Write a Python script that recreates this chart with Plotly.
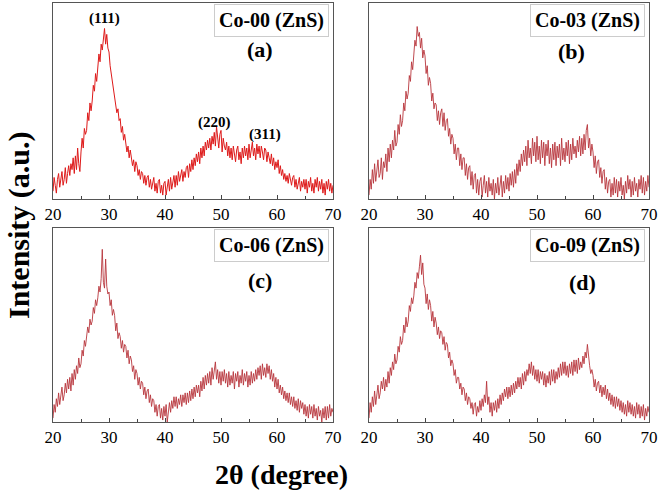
import plotly.graph_objects as go

# 2-theta grid (degrees), step 0.2 from 20 to 70
two_theta = [round(20 + 0.2 * i, 1) for i in range(251)]

# Intensity (a.u., 0-100 of panel height)
co00 = [4, 11, 7, 3, 10, 13, 6, 9, 14, 7, 10, 16, 8, 13, 17, 12, 18, 15, 21, 13,
        22, 15, 26, 18, 14, 24, 31, 26, 36, 33, 35, 44, 40, 49, 45, 50, 58, 55, 64, 60,
        66, 74, 70, 79, 76, 82, 87, 79, 84, 77, 75, 68, 64, 60, 57, 53, 49, 44, 46, 40,
        41, 34, 37, 30, 33, 29, 24, 27, 21, 25, 22, 17, 20, 14, 19, 17, 12, 15, 10, 14,
        13, 8, 12, 7, 11, 12, 6, 10, 5, 9, 11, 4, 8, 3, 9, 10, 3, 7, 2, 8,
        9, 2, 6, 10, 4, 11, 5, 8, 12, 6, 12, 7, 14, 9, 13, 15, 9, 14, 11, 16,
        17, 11, 18, 14, 20, 15, 21, 17, 23, 19, 24, 18, 26, 21, 27, 22, 29, 25, 30, 26,
        31, 25, 32, 28, 34, 27, 37, 30, 26, 33, 35, 24, 31, 27, 25, 29, 22, 27, 21, 26,
        20, 27, 23, 19, 25, 27, 20, 24, 18, 26, 21, 27, 22, 26, 20, 28, 21, 25, 29, 22,
        26, 20, 28, 23, 27, 21, 27, 24, 20, 26, 25, 19, 24, 21, 18, 23, 17, 21, 15, 19,
        16, 20, 13, 17, 12, 15, 10, 13, 9, 12, 8, 13, 10, 7, 11, 12, 6, 10, 5, 9,
        11, 4, 9, 6, 10, 5, 10, 3, 9, 6, 11, 4, 8, 3, 10, 6, 11, 4, 9, 5,
        10, 3, 8, 2, 9, 5, 10, 4, 8, 3, 7]

co03 = [2, 10, 5, 15, 8, 18, 9, 14, 20, 11, 13, 21, 10, 19, 16, 23, 14, 26, 19, 28,
        21, 30, 25, 35, 27, 29, 38, 33, 43, 37, 40, 49, 45, 55, 51, 54, 63, 60, 70, 66,
        74, 81, 78, 88, 83, 85, 77, 82, 72, 76, 73, 64, 68, 58, 62, 59, 50, 54, 46, 49,
        48, 40, 45, 38, 44, 46, 37, 44, 35, 40, 41, 32, 36, 28, 33, 31, 23, 28, 20, 26,
        26, 17, 23, 15, 21, 21, 12, 18, 10, 16, 17, 7, 14, 5, 12, 13, 3, 10, 2, 9,
        11, 1, 7, 12, 3, 9, 1, 11, 4, 8, 2, 10, 0, 8, 3, 11, 2, 7, 12, 1,
        9, 3, 12, 5, 11, 4, 13, 7, 14, 6, 15, 8, 18, 12, 20, 14, 23, 17, 25, 19,
        27, 17, 30, 21, 26, 18, 31, 22, 29, 19, 32, 20, 27, 18, 30, 21, 29, 17, 28, 22,
        30, 18, 26, 16, 28, 20, 29, 17, 27, 21, 28, 17, 31, 20, 26, 19, 29, 22, 30, 18,
        28, 20, 31, 23, 27, 21, 30, 24, 32, 22, 31, 23, 33, 25, 35, 38, 26, 31, 22, 28,
        24, 16, 22, 13, 19, 20, 11, 16, 8, 14, 15, 5, 11, 3, 9, 10, 1, 8, 2, 11,
        3, 10, 1, 9, 4, 11, 2, 7, 0, 9, 3, 12, 5, 10, 1, 9, 2, 11, 4, 8,
        1, 10, 5, 12, 3, 11, 2, 9, 4, 12, 6]

co06 = [2, 9, 5, 12, 8, 15, 9, 13, 18, 11, 14, 20, 15, 22, 17, 23, 16, 25, 19, 27,
        22, 29, 25, 33, 28, 30, 37, 34, 42, 39, 43, 49, 46, 53, 50, 52, 59, 56, 63, 60,
        64, 70, 67, 74, 89, 72, 69, 84, 70, 66, 67, 60, 63, 55, 58, 55, 47, 51, 43, 46,
        44, 38, 42, 36, 40, 39, 33, 37, 30, 34, 32, 26, 29, 22, 27, 25, 19, 23, 17, 21,
        20, 14, 18, 12, 16, 17, 10, 14, 8, 12, 11, 5, 9, 3, 8, 9, 2, 7, 1, 8,
        3, 9, 0, 7, 10, 5, 11, 7, 13, 8, 13, 7, 12, 9, 14, 8, 14, 10, 15, 9,
        15, 10, 16, 11, 17, 12, 18, 13, 19, 15, 19, 13, 21, 16, 23, 17, 24, 19, 25, 20,
        26, 19, 28, 22, 27, 31, 22, 27, 20, 26, 19, 26, 21, 27, 20, 25, 18, 26, 19, 24,
        20, 26, 17, 25, 21, 26, 18, 24, 20, 27, 19, 25, 21, 26, 18, 24, 19, 26, 20, 25,
        21, 27, 22, 28, 24, 29, 22, 30, 24, 28, 23, 30, 25, 29, 22, 27, 21, 25, 18, 23,
        17, 22, 15, 19, 14, 18, 12, 16, 11, 15, 10, 15, 9, 13, 8, 13, 7, 11, 6, 12,
        5, 11, 7, 10, 4, 9, 3, 8, 2, 9, 4, 8, 2, 9, 3, 7, 1, 8, 3, 6,
        0, 7, 2, 8, 1, 8, 2, 9, 3, 7, 5]

co09 = [2, 10, 5, 13, 8, 16, 9, 14, 19, 12, 15, 21, 17, 23, 16, 22, 18, 26, 20, 28,
        24, 31, 27, 35, 30, 32, 39, 36, 44, 40, 42, 50, 46, 54, 49, 52, 60, 57, 64, 61,
        65, 72, 69, 77, 74, 80, 86, 76, 82, 71, 69, 61, 66, 58, 63, 60, 52, 57, 49, 54,
        51, 45, 49, 43, 47, 46, 40, 44, 37, 41, 40, 33, 36, 29, 32, 30, 24, 27, 20, 23,
        23, 17, 20, 14, 18, 17, 11, 15, 9, 13, 12, 7, 10, 4, 9, 10, 3, 8, 5, 11,
        6, 12, 8, 14, 10, 21, 9, 13, 5, 10, 3, 10, 6, 11, 5, 12, 7, 14, 9, 15,
        11, 17, 13, 18, 12, 18, 13, 19, 14, 20, 15, 21, 17, 23, 18, 23, 17, 25, 19, 26,
        21, 27, 24, 30, 25, 31, 24, 29, 22, 27, 21, 27, 20, 26, 22, 26, 19, 25, 18, 24,
        20, 26, 19, 27, 21, 27, 20, 26, 22, 28, 23, 30, 24, 31, 25, 31, 24, 29, 23, 30,
        25, 31, 24, 32, 26, 32, 25, 33, 27, 31, 28, 34, 30, 36, 33, 40, 32, 29, 25, 27,
        24, 18, 22, 16, 20, 21, 15, 19, 13, 18, 14, 19, 12, 17, 11, 15, 9, 14, 8, 13,
        7, 13, 8, 12, 6, 11, 5, 10, 4, 9, 3, 11, 5, 10, 4, 9, 3, 8, 2, 10,
        4, 9, 2, 8, 3, 9, 1, 7, 3, 8, 5]

samples = ["Co-00 (ZnS)", "Co-03 (ZnS)", "Co-06 (ZnS)", "Co-09 (ZnS)"]
panel_tags = ["(a)", "(b)", "(c)", "(d)"]
peak_labels = ["(111)", "(220)", "(311)"]
peak_pos = [29.2, 48.9, 57.9]
peak_val = [92, 39, 33]
x_ticks = [20, 30, 40, 50, 60, 70]

W, H = 661, 498
def px(x0, x1):
    return [x0 / W, x1 / W]
def py(top, bottom):
    return [1 - bottom / H, 1 - top / H]

doms = [
    (px(53, 333), py(3, 199)),
    (px(369, 649), py(3, 199)),
    (px(53, 333), py(228, 422)),
    (px(369, 649), py(228, 422)),
]
series = [co00, co03, co06, co09]
colors = ["#de1a1a", "#b8363c", "#b8363c", "#b8363c"]
widths = [1.0, 0.9, 0.9, 0.9]

font_bold = "Liberation Serif"
fig = go.Figure()
layout = dict(width=W, height=H, margin=dict(l=0, r=0, t=0, b=0, pad=0, autoexpand=False),
              paper_bgcolor="white", plot_bgcolor="white", showlegend=False)

for i, (ys, (dx, dy)) in enumerate(zip(series, doms)):
    n = "" if i == 0 else str(i + 1)
    fig.add_trace(go.Scatter(x=two_theta[:len(ys)], y=ys, mode="lines",
                             line=dict(color=colors[i], width=widths[i]),
                             xaxis="x" + n, yaxis="y" + n))
    layout["xaxis" + n] = dict(domain=dx, anchor="y" + n, range=[20, 70],
                               tickvals=x_ticks, ticks="inside", ticklen=4,
                               tickcolor="#444", showline=True, mirror=True,
                               linecolor="#555", linewidth=1, showgrid=False,
                               zeroline=False, automargin=False,
                               minor=dict(dtick=5, ticks="inside", ticklen=3,
                                          tickcolor="#444"),
                               tickfont=dict(family=font_bold, size=17, color="black"))
    layout["yaxis" + n] = dict(domain=dy, anchor="x" + n, range=[0, 100],
                               showticklabels=False, ticks="", showline=True,
                               mirror=True, linecolor="#555", linewidth=1,
                               showgrid=False, zeroline=False, automargin=False)

fig.update_layout(**layout)

# sample boxes and panel tags (pixel positions)
box_centers = [(271, 21), (587, 21), (271, 245), (587, 246)]
tag_centers = [(260, 49), (571, 52), (260, 280), (582, 282)]
for i in range(4):
    bx, by = box_centers[i]
    fig.add_annotation(x=bx / W, y=1 - by / H, xref="paper", yref="paper",
                       text="<b>" + samples[i] + "</b>", showarrow=False,
                       font=dict(family=font_bold, size=20, color="black"),
                       bordercolor="#cccccc", borderwidth=1, borderpad=4,
                       bgcolor="white", xanchor="center", yanchor="middle")
    tx, ty = tag_centers[i]
    fig.add_annotation(x=tx / W, y=1 - ty / H, xref="paper", yref="paper",
                       text="<b>" + panel_tags[i] + "</b>", showarrow=False,
                       font=dict(family=font_bold, size=22, color="black"),
                       xanchor="center", yanchor="middle")

for lab, xp, yv in zip(peak_labels, peak_pos, peak_val):
    fig.add_annotation(x=xp, y=yv, xref="x", yref="y", text="<b>" + lab + "</b>",
                       showarrow=False, yanchor="middle",
                       font=dict(family=font_bold, size=15, color="black"))

fig.add_annotation(x=281 / W, y=1 - 474 / H, xref="paper", yref="paper",
                   text="<b>2θ (degree)</b>", showarrow=False,
                   font=dict(family=font_bold, size=28, color="black"),
                   xanchor="center", yanchor="middle")
fig.add_annotation(x=19 / W, y=1 - 225 / H, xref="paper", yref="paper",
                   text="<b>Intensity (a.u.)</b>", showarrow=False, textangle=-90,
                   font=dict(family=font_bold, size=30, color="black"),
                   xanchor="center", yanchor="middle")

fig.write_html("out.html", config={"displayModeBar": False},
               post_script="document.body.style.margin='0';document.body.style.overflow='hidden';")
